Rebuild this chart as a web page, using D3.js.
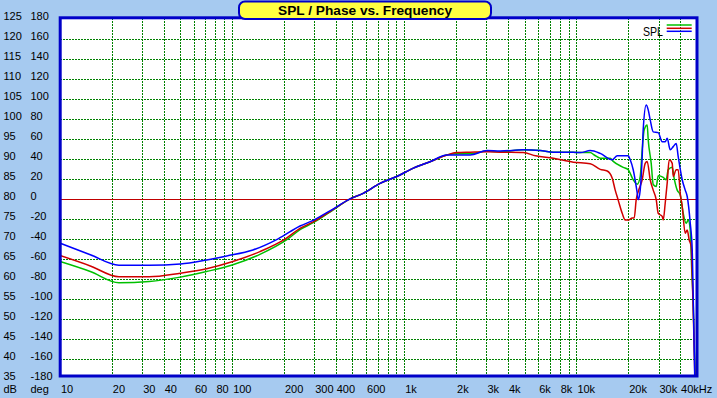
<!DOCTYPE html>
<html>
<head>
<meta charset="utf-8">
<script src="https://cdn.jsdelivr.net/npm/d3@7"></script>
<style>
  html, body { margin: 0; padding: 0; background: #A6CAF0; }
  svg { display: block; font-family: "Liberation Sans", Arial, sans-serif; }
</style>
</head>
<body>
<div id="chart"></div>
<script>
// axis values
const dbTicks = [125, 120, 115, 110, 105, 100, 95, 90, 85, 80, 75, 70, 65, 60, 55, 50, 45, 40, 35];
const degTicks = [180, 160, 140, 120, 100, 80, 60, 40, 20, 0, -20, -40, -60, -80, -100, -120, -140, -160, -180];
const freqTicks = [10, 20, 30, 40, 60, 80, 100, 200, 300, 400, 600, 1000, 2000, 3000, 4000, 6000, 8000, 10000, 20000, 30000, 40000];
const freqLabels = ["10", "20", "30", "40", "60", "80", "100", "200", "300", "400", "600", "1k", "2k", "3k", "4k", "6k", "8k", "10k", "20k", "30k", "40kHz"];

// SPL curves, [Hz, dB]
const splGreen = [
  [10, 64.3], [15, 61.8], [22, 59.0], [33, 59.3], [50, 60.4], [71, 61.8], [101, 63.5], [145, 66.1], [210, 69.9],
  [248, 72.3], [298, 74.1], [370, 76.7], [485, 80.0], [577, 81.4], [724, 83.9], [904, 85.6], [1130, 87.7],
  [1410, 89.3], [1770, 91.0], [2010, 91.3], [2415, 91.3], [3032, 92.0], [3608, 91.8], [4910, 92.3], [6160, 92.1],
  [7334, 91.7], [9584, 91.7], [10527, 91.6], [12033, 91.6], [12700, 91.0], [13756, 90.2], [15700, 90.2], [16368, 89.4],
  [18706, 87.9], [20005, 87.3], [21386, 84.8], [22559, 83.7], [23481, 85.6], [24116, 92.3], [24775, 97.3],
  [25787, 98.5], [26140, 94.8], [27208, 88.9], [27945, 83.6], [29092, 83.1], [29880, 85.8], [31945, 85.4],
  [33251, 84.8], [34151, 87.3], [36035, 87.9], [37011, 85.1], [38525, 82.2], [40109, 81.0], [41748, 76.4],
  [43455, 73.9], [44634, 74.7], [45852, 72.2], [46800, 62.0], [47727, 54.0], [48500, 42.0], [49000, 35.5]
];
const splRed = [
  [10, 65.8], [15, 63.2], [22, 60.5], [33, 60.5], [50, 61.4], [71, 62.5], [101, 64.3], [145, 66.8], [204, 70.0],
  [248, 72.6], [298, 74.3], [370, 76.8], [485, 80.0], [577, 81.4], [724, 83.9], [904, 85.6], [1130, 87.7],
  [1410, 89.3], [1770, 91.0], [2010, 91.6], [2415, 91.7], [3032, 91.8], [3608, 91.7], [4910, 91.6], [5800, 90.8],
  [7334, 90.2], [9584, 89.2], [12033, 88.8], [13756, 87.4], [15108, 87.0], [16155, 85.2], [16807, 82.2], [17500, 79.7],
  [18457, 76.4], [19216, 74.7], [20005, 74.7], [21102, 75.2], [21674, 75.2], [22261, 79.8], [22862, 81.8],
  [24116, 84.8], [25109, 88.9], [25787, 89.4], [26847, 84.8], [27945, 82.2], [29092, 79.8], [29880, 76.4],
  [31521, 75.6], [31945, 74.7], [32810, 78.9], [33699, 84.0], [34618, 89.8], [36035, 88.9], [36520, 85.6],
  [38014, 87.3], [39044, 87.3], [40109, 81.4], [41194, 78.1], [42880, 71.4], [44041, 72.2], [45233, 69.7],
  [46470, 68.0], [47000, 62.0], [47500, 55.0], [48000, 48.0], [48800, 35.5]
];
const splBlue = [
  [10, 68.9], [15, 66.0], [22, 63.4], [33, 63.4], [50, 63.7], [71, 64.7], [93, 65.7], [132, 67.2], [185, 70.0],
  [248, 73.2], [298, 74.7], [370, 77.0], [485, 80.0], [577, 81.4], [724, 83.9], [904, 85.6], [1130, 87.7],
  [1410, 89.3], [1770, 91.0], [2010, 91.0], [2415, 91.0], [3032, 92.1], [3608, 92.0], [4910, 92.3], [6160, 92.1],
  [7334, 91.7], [9584, 91.7], [10527, 91.6], [12033, 92.1], [13756, 91.4], [16155, 89.8], [17269, 90.8], [20005, 90.8],
  [20546, 89.8], [21386, 87.3], [22559, 81.5], [22862, 79.8], [23481, 82.2], [24116, 90.6], [24440, 97.3],
  [25446, 103.5], [26140, 102.3], [26847, 99.8], [27945, 96.8], [29880, 96.6], [31521, 94.3], [32810, 94.3],
  [33699, 95.2], [35084, 92.3], [36520, 93.1], [38014, 93.9], [39044, 90.6], [41194, 84.8], [42880, 82.2],
  [44041, 80.6], [45852, 74.0], [47095, 67.2], [47400, 62.0], [48000, 50.0], [48700, 35.5]
];
const series = [
  { name: "green", color: "#00C000", values: splGreen },
  { name: "red", color: "#D00000", values: splRed },
  { name: "blue", color: "#0000FF", values: splBlue }
];

const width = 717, height = 398;
const plot = { left: 60.2, right: 697, top: 17.8, bottom: 376 };

const svg = d3.select("#chart").append("svg")
  .attr("width", width)
  .attr("height", height);

svg.append("rect").attr("width", width).attr("height", height).attr("fill", "#A6CAF0");

const x = d3.scaleLog().domain([10, 50000]).range([60, 696.7]);
const y = d3.scaleLinear().domain([35, 125]).range([378.5, 19.3]);

// plot area
svg.append("rect")
  .attr("x", plot.left).attr("y", plot.top)
  .attr("width", plot.right - plot.left).attr("height", plot.bottom - plot.top)
  .attr("fill", "#fff");

// grid
let gridFreqs = [];
for (let dec = 10; dec <= 10000; dec *= 10) {
  for (let m = 1; m <= 9; m++) {
    const f = dec * m;
    if (f > 10 && f < 50000) gridFreqs.push(f);
  }
}
const grid = svg.append("g")
  .attr("stroke", "#008000")
  .attr("stroke-dasharray", "2,1")
  .attr("shape-rendering", "crispEdges");

grid.selectAll(".vgrid").data(gridFreqs).enter()
  .append("line")
  .attr("class", "vgrid")
  .attr("x1", d => Math.round(x(d)) + 0.5).attr("x2", d => Math.round(x(d)) + 0.5)
  .attr("y1", plot.top).attr("y2", plot.bottom);

grid.selectAll(".hgrid").data(dbTicks.filter(d => d > 35 && d < 125 && d !== 80)).enter()
  .append("line")
  .attr("class", "hgrid")
  .attr("x1", plot.left).attr("x2", plot.right)
  .attr("y1", d => Math.round(y(d)) + 0.5).attr("y2", d => Math.round(y(d)) + 0.5);

// 0 deg line
svg.append("line")
  .attr("x1", plot.left).attr("x2", plot.right)
  .attr("y1", Math.round(y(80)) + 0.5).attr("y2", Math.round(y(80)) + 0.5)
  .attr("stroke", "#C00000")
  .attr("stroke-width", 1.2)
  .attr("shape-rendering", "crispEdges");

// curves
svg.append("clipPath").attr("id", "clip")
  .append("rect")
  .attr("x", plot.left).attr("y", plot.top)
  .attr("width", plot.right - plot.left).attr("height", plot.bottom - plot.top);

const line = d3.line()
  .x(d => x(d[0]))
  .y(d => y(d[1]))
  .curve(d3.curveMonotoneX);

svg.append("g")
  .attr("clip-path", "url(#clip)")
  .selectAll(".spl").data(series).enter()
  .append("path")
  .attr("class", "spl")
  .attr("d", d => line(d.values))
  .attr("fill", "none")
  .attr("stroke", d => d.color)
  .attr("stroke-width", 1.5)
  .attr("stroke-linejoin", "round");

// border
svg.append("rect")
  .attr("x", plot.left).attr("y", plot.top)
  .attr("width", plot.right - plot.left).attr("height", plot.bottom - plot.top)
  .attr("fill", "none")
  .attr("stroke", "#0000C8")
  .attr("stroke-width", 3);

// y labels
svg.selectAll(".dbLabel").data(dbTicks).enter()
  .append("text")
  .attr("class", "dbLabel")
  .attr("x", 3.5)
  .attr("y", d => y(d) + 1)
  .attr("font-size", "11px")
  .text(d => d);

svg.selectAll(".degLabel").data(degTicks).enter()
  .append("text")
  .attr("class", "degLabel")
  .attr("x", 30.5)
  .attr("y", (d, i) => y(dbTicks[i]) + 1)
  .attr("font-size", "11px")
  .text(d => d);

// x labels
svg.selectAll(".fLabel").data(freqTicks).enter()
  .append("text")
  .attr("class", "fLabel")
  .attr("x", d => x(d) + 1)
  .attr("y", 393)
  .attr("font-size", "11px")
  .text((d, i) => freqLabels[i]);

svg.append("text").attr("x", 3.5).attr("y", 393).attr("font-size", "11px").text("dB");
svg.append("text").attr("x", 30.5).attr("y", 393).attr("font-size", "11px").text("deg");

// legend
svg.append("text")
  .attr("x", 643).attr("y", 35.5)
  .attr("font-size", "12px")
  .attr("textLength", 20)
  .attr("lengthAdjust", "spacingAndGlyphs")
  .text("SPL");

const legendY = [25, 28.3, 31.3];
svg.selectAll(".legLine").data(series).enter()
  .append("line")
  .attr("class", "legLine")
  .attr("x1", 666.7).attr("x2", 691.7)
  .attr("y1", (d, i) => legendY[i]).attr("y2", (d, i) => legendY[i])
  .attr("stroke", d => d.color)
  .attr("stroke-width", 1.5);

// title box
svg.append("rect")
  .attr("x", 239).attr("y", 1.5)
  .attr("width", 252).attr("height", 17.5)
  .attr("rx", 6).attr("ry", 6)
  .attr("fill", "#FFFF40")
  .attr("stroke", "#0000C8")
  .attr("stroke-width", 2);

svg.append("text")
  .attr("x", 365).attr("y", 15)
  .attr("text-anchor", "middle")
  .attr("font-size", "13.5px")
  .attr("font-weight", "bold")
  .attr("textLength", 174)
  .attr("lengthAdjust", "spacingAndGlyphs")
  .text("SPL / Phase vs. Frequency");
</script>
</body>
</html>
